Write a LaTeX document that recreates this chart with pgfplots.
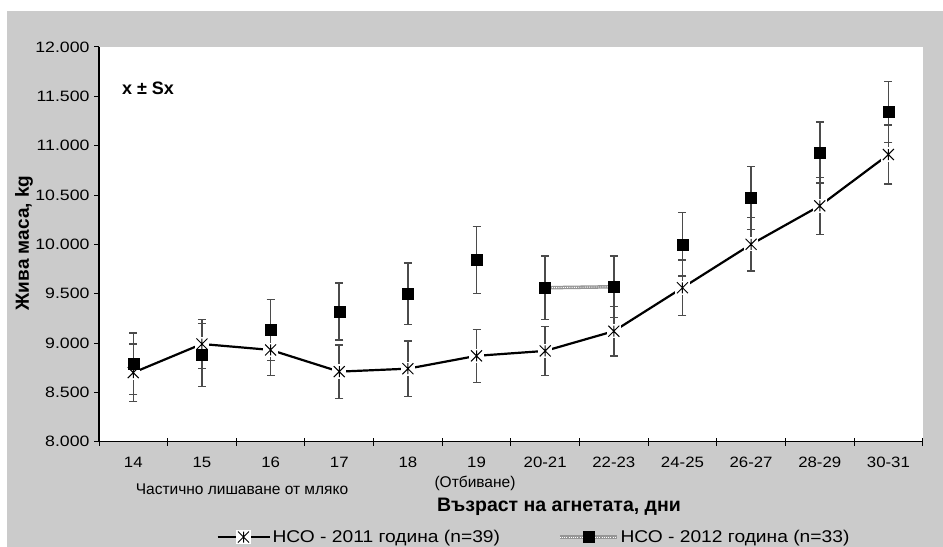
\documentclass[border=0pt]{standalone}
\usepackage{fontspec}
\setmainfont{Liberation Sans}
\usepackage{pgfplots}
\pgfplotsset{compat=1.18}
\definecolor{bggray}{RGB}{203,203,203}
\definecolor{errgray}{RGB}{75,75,75}
\definecolor{hatchgray}{RGB}{150,150,150}
\newcommand{\fs}[1]{\fontsize{#1bp}{#1bp}\selectfont}
\newcommand{\sx}[1]{\scalebox{1.12}[1]{#1}}
\pgfdeclareplotmark{xstar}{%
  \pgfscope
  \pgfsetfillcolor{white}%
  \pgfpathrectangle{\pgfpoint{-1.3\pgfplotmarksize}{-1.3\pgfplotmarksize}}{\pgfpoint{2.6\pgfplotmarksize}{2.6\pgfplotmarksize}}%
  \pgfusepathqfill
  \endpgfscope
  \pgfpathmoveto{\pgfpoint{-\pgfplotmarksize}{-\pgfplotmarksize}}%
  \pgfpathlineto{\pgfpoint{\pgfplotmarksize}{\pgfplotmarksize}}%
  \pgfpathmoveto{\pgfpoint{-\pgfplotmarksize}{\pgfplotmarksize}}%
  \pgfpathlineto{\pgfpoint{\pgfplotmarksize}{-\pgfplotmarksize}}%
  \pgfpathmoveto{\pgfpoint{0pt}{-\pgfplotmarksize}}%
  \pgfpathlineto{\pgfpoint{0pt}{\pgfplotmarksize}}%
  \pgfusepathqstroke}
\pgfplotsset{
  legimgA/.style={legend image code/.code={\draw[##1, mark repeat=2, mark phase=2] plot coordinates {(0bp,0bp) (26bp,0bp) (52bp,0bp)};}},
  legimgB/.style={legend image code/.code={\draw[hatchgray, line width=3.5bp] (0bp,0bp)--(57bp,0bp); \draw[white, line width=0.9bp, dash pattern=on 1bp off 1.2bp] (0bp,0bp)--(57bp,0bp); \draw[##1] plot coordinates {(28.5bp,0bp)};}},
}
\pgfplotstableread{
x y e
0 8.70 0.29
1 8.99 0.25
2 8.93 0.26
3 8.71 0.27
4 8.74 0.28
5 8.87 0.27
6 8.92 0.25
7 9.12 0.25
8 9.56 0.28
9 10.00 0.27
10 10.39 0.29
11 10.91 0.30
}\dataA
\pgfplotstableread{
x y e
0 8.79 0.31
1 8.88 0.32
2 9.13 0.31
3 9.32 0.29
4 9.50 0.31
5 9.84 0.34
6 9.56 0.32
7 9.57 0.31
8 10.00 0.32
9 10.47 0.32
10 10.93 0.31
11 11.34 0.31
}\dataB
\begin{document}
\begin{tikzpicture}[x=1bp,y=1bp]
\useasboundingbox (0,0) rectangle (943,547);
\fill[white] (0,0) rectangle (943,547);
\fill[bggray] (7,0) rectangle (943,536);
\begin{axis}[
  at={(99bp,105.3bp)}, anchor=south west,
  width=823.7bp, height=394.7bp, scale only axis,
  xmin=-0.5, xmax=11.5, ymin=8, ymax=12,
  axis lines*=left,
  axis line style={black, line width=1.1bp},
  axis background/.style={fill=white},
  clip=false,
  tick align=outside,
  xtick={0,...,11},
  xticklabels={\sx{14},\sx{15},\sx{16},\sx{17},\sx{18},\sx{19},\sx{20-21},\sx{22-23},\sx{24-25},\sx{26-27},\sx{28-29},\sx{30-31}},
  minor xtick={-0.5,0.5,1.5,2.5,3.5,4.5,5.5,6.5,7.5,8.5,9.5,10.5,11.5},
  major x tick style={draw=none},
  minor x tick style={black, line width=1bp, yshift=4bp},
  minor tick length=8bp,
  major tick length=5bp,
  ytick={8,8.5,9,9.5,10,10.5,11,11.5,12},
  ytick style={black, line width=1bp},
  xticklabel style={font=\fs{15}, yshift=-7bp},
  yticklabel={\scalebox{1.18}[1]{\pgfmathprintnumber{\tick}}},
  yticklabel style={font=\fs{15}, xshift=-1bp, /pgf/number format/.cd, fixed, fixed zerofill, precision=3, use period},
  /pgf/number format/assume math mode=true,
  legend columns=2,
  legend style={at={(0.528,-0.2415)}, anchor=center, draw=none, fill=none, font=\fs{17},
    /tikz/every even column/.append style={column sep=56bp}},
]
\addplot[forget plot, draw=hatchgray, line width=3.5bp] coordinates {(6,9.56) (7,9.57)};
\addplot[forget plot, draw=white, line width=0.9bp, dash pattern=on 1bp off 1.2bp] coordinates {(6,9.56) (7,9.57)};
\addplot[black, line width=2.2bp, mark=xstar, mark size=5.5bp,
  mark options={line width=1bp, solid}, legimgA,
  error bars/.cd, y dir=both, y explicit,
  error bar style={line width=1.6bp, errgray},
  error mark options={rotate=90, line width=1.4bp, errgray, mark size=4bp}]
  table[x=x, y=y, y error=e] {\dataA};
\addlegendentry{\scalebox{1.13}[1]{НСО - 2011 година (n=39)}}
\addplot[black, only marks, mark=square*, mark size=5.5bp, legimgB,
  error bars/.cd, y dir=both, y explicit,
  error bar style={line width=1.6bp, errgray},
  error mark options={rotate=90, line width=1.4bp, errgray, mark size=4bp}]
  table[x=x, y=y, y error=e] {\dataB};
\addlegendentry{\scalebox{1.13}[1]{НСО - 2012 година (n=33)}}
\end{axis}
\node[font=\fs{15.5}] at (242,58) {Частично лишаване от мляко};
\node[font=\fs{15.5}] at (475,64) {(Отбиване)};
\node[font=\fs{19.5}\bfseries] at (559,40) {Възраст на агнетата, дни};
\node[font=\fs{18}\bfseries] at (148,459) {x ± Sx};
\node[font=\fs{19}\bfseries, rotate=90] at (24,304) {Жива маса, kg};
\end{tikzpicture}
\end{document}
